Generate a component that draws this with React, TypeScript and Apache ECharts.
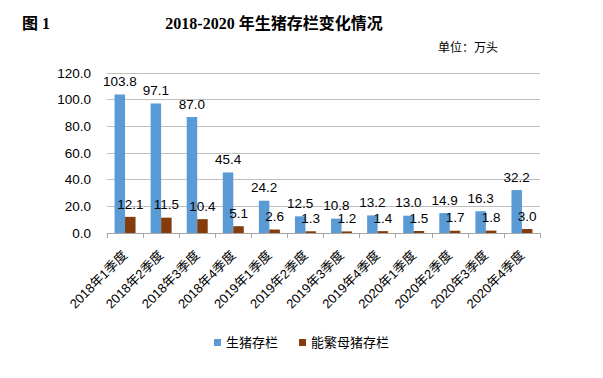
import React, { useEffect, useRef } from "react";
import * as echarts from "echarts";

const categories = [
  "2018年1季度", "2018年2季度", "2018年3季度", "2018年4季度",
  "2019年1季度", "2019年2季度", "2019年3季度", "2019年4季度",
  "2020年1季度", "2020年2季度", "2020年3季度", "2020年4季度",
];
const hogStock = [103.8, 97.1, 87.0, 45.4, 24.2, 12.5, 10.8, 13.2, 13.0, 14.9, 16.3, 32.2];
const sowStock = [12.1, 11.5, 10.4, 5.1, 2.6, 1.3, 1.2, 1.4, 1.5, 1.7, 1.8, 3.0];
const seriesNames = ["生猪存栏", "能繁母猪存栏"];

const SANS = "'Liberation Sans', 'Noto Sans CJK SC', sans-serif";
const SERIF = "'Liberation Serif', 'Noto Sans CJK SC', serif";

export default function App() {
  const ref = useRef<HTMLDivElement>(null);
  useEffect(() => {
    if (!ref.current) return;
    const chart = echarts.init(ref.current, null, { renderer: "svg" });
    const label = {
      show: true,
      position: "top",
      distance: 6,
      color: "#000",
      fontSize: 13.5,
      fontFamily: SANS,
      formatter: (p: any) => Number(p.value).toFixed(1),
    };
    chart.setOption({
      animation: false,
      backgroundColor: "#fff",
      graphic: [
        {
          type: "text",
          x: 22,
          y: 23,
          style: { text: "图 1", font: `bold 16px ${SERIF}`, fill: "#000", verticalAlign: "middle" },
        },
        {
          type: "text",
          x: 274,
          y: 23,
          style: {
            text: "2018-2020 年生猪存栏变化情况",
            font: `bold 16px ${SERIF}`,
            fill: "#000",
            align: "center",
            verticalAlign: "middle",
          },
        },
        {
          type: "text",
          x: 498,
          y: 48,
          style: {
            text: "单位：万头",
            font: `12px ${SANS}`,
            fill: "#000",
            align: "right",
            verticalAlign: "middle",
          },
        },
      ],
      legend: {
        bottom: 24,
        left: "center",
        itemWidth: 7,
        itemHeight: 7,
        itemGap: 21,
        icon: "rect",
        textStyle: { fontSize: 13, fontFamily: SANS, color: "#000" },
        data: seriesNames,
      },
      grid: { left: 107, right: 63, top: 73, bottom: 145 },
      xAxis: {
        type: "category",
        data: categories,
        axisLine: { lineStyle: { color: "#a6a6a6" } },
        axisTick: { show: true, length: 5, lineStyle: { color: "#a6a6a6" } },
        axisLabel: {
          rotate: 45,
          interval: 0,
          margin: 20,
          color: "#000",
          fontSize: 13,
          fontFamily: SANS,
        },
      },
      yAxis: {
        type: "value",
        min: 0,
        max: 120,
        interval: 20,
        axisLine: { show: false },
        axisTick: { show: false },
        axisLabel: {
          margin: 16,
          color: "#000",
          fontSize: 13.5,
          fontFamily: SANS,
          formatter: (v: number) => v.toFixed(1),
        },
        splitLine: { lineStyle: { color: "#bfbfbf" } },
      },
      series: [
        {
          name: seriesNames[0],
          type: "bar",
          data: hogStock,
          barWidth: 10.5,
          barGap: "0%",
          itemStyle: { color: "#5b9bd5" },
          label,
        },
        {
          name: seriesNames[1],
          type: "bar",
          data: sowStock,
          barWidth: 10.5,
          barGap: "0%",
          itemStyle: { color: "#843c0c" },
          label,
        },
      ],
    });
    return () => chart.dispose();
  }, []);
  return <div ref={ref} style={{ width: 603, height: 378, margin: -8 }} />;
}
